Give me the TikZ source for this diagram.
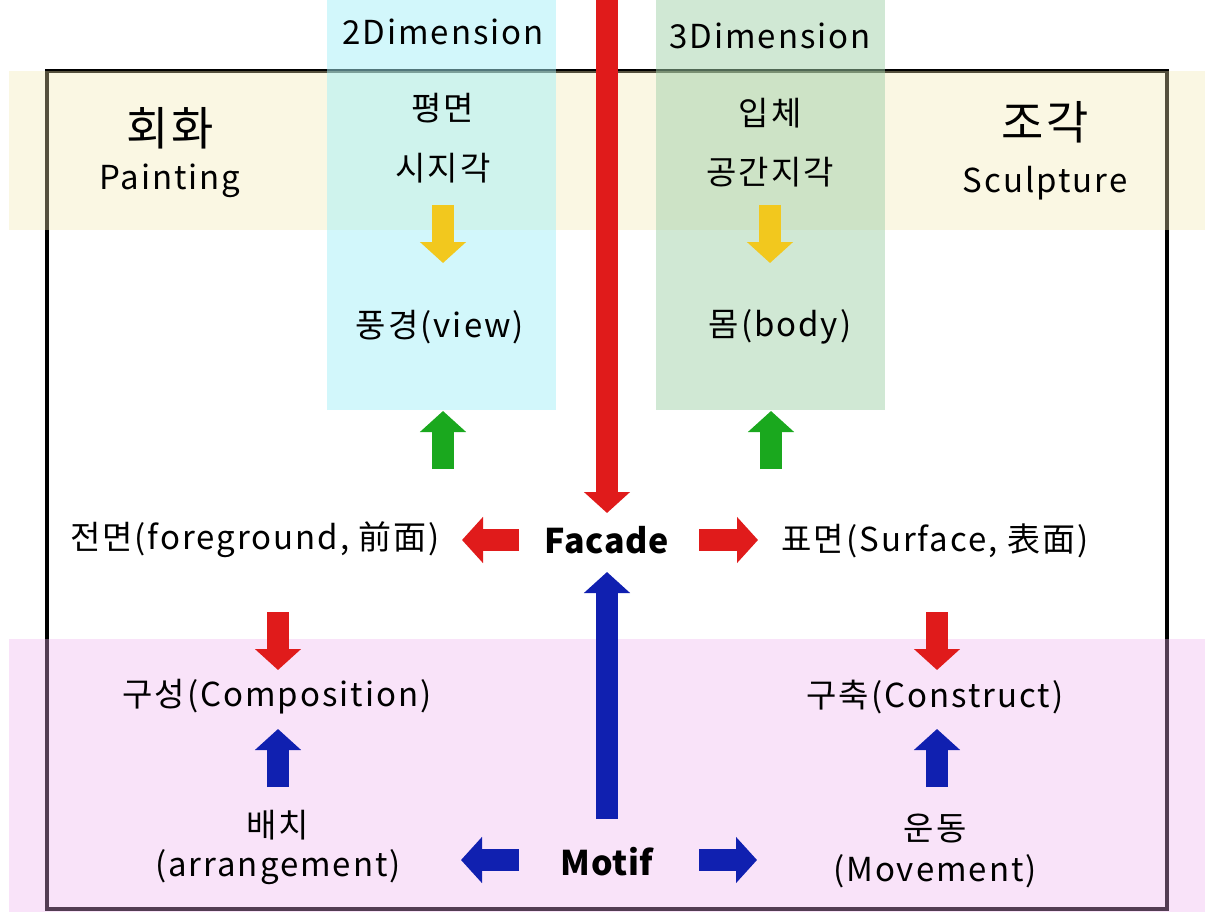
\documentclass[tikz,border=0pt]{standalone}
\usepackage{fontspec}
\setmainfont{Noto Sans CJK KR}[LetterSpace=6, BoldFeatures={LetterSpace=2}]
\usetikzlibrary{arrows.meta}
\definecolor{bandY}{RGB}{241,232,175}
\definecolor{bandP}{RGB}{238,175,238}
\definecolor{colC}{RGB}{165,239,247}
\definecolor{colG}{RGB}{161,209,169}
\definecolor{arRed}{RGB}{224,27,27}
\definecolor{arBlue}{RGB}{16,32,176}
\definecolor{arGreen}{RGB}{26,168,30}
\definecolor{arYellow}{RGB}{242,200,30}
\tikzset{
  txt/.style={inner sep=0pt, font=\fontsize{33}{40}\selectfont},
  bigtxt/.style={inner sep=0pt, font=\fontsize{46}{52}\selectfont},
  boldtxt/.style={inner sep=0pt, font=\fontsize{34}{40}\selectfont\bfseries},
  blockarrow/.style={line width=22pt, line cap=butt,
    -{Triangle[length=21pt,width=45pt]}},
}
\begin{document}
\begin{tikzpicture}[x=1pt,y=-1pt]
\useasboundingbox (0,0) rectangle (1220,912);
% outer frame
\draw[line width=3.5pt, black] (47,71) rectangle (1167,909);
% horizontal bands
\fill[bandY, fill opacity=0.35] (9,71) rectangle (1205,230);
\fill[bandP, fill opacity=0.35] (9,639) rectangle (1205,912);
% dimension columns
\fill[colC, fill opacity=0.5] (327,0) rectangle (556,410);
\fill[colG, fill opacity=0.5] (656,0) rectangle (885,410);

% labels
\node[txt] (dim2) at (443,32) {2Dimension};
\node[txt] (dim3) at (770,36) {3Dimension};
\node[bigtxt] (hoehwa) at (170,128) {회화};
\node[txt] (painting) at (170,181) {Painting};
\node[txt] (pyeong) at (443,108) {평면};
\node[txt] (siji) at (443,168) {시지각};
\node[txt] (ipche) at (770,113) {입체};
\node[txt] (gonggan) at (770,172) {공간지각};
\node[bigtxt] (jogak) at (1045,122) {조각};
\node[txt] (sculpture) at (1045,183) {Sculpture};
\node[txt] (view) at (440,327) {풍경(view)};
\node[txt] (body) at (780,327) {몸(body)};
\node[txt] (fore) at (255,540) {전면(foreground, 前面)};
\node[boldtxt] (facade) at (607,540) {Facade};
\node[txt] (surface) at (935,541) {표면(Surface, 表面)};
\node[txt] (comp) at (277,697) {구성(Composition)};
\node[txt] (constr) at (935,697) {구축(Construct)};
\node[txt] (baechi) at (278,825) {배치};
\node[txt] (arrange) at (278,867) {(arrangement)};
\node[boldtxt] (motif) at (607,862) {Motif};
\node[txt] (undong) at (935,828) {운동};
\node[txt] (movement) at (935,871) {(Movement)};

% arrow end points
\coordinate (redTop) at (607,-5);
\coordinate (redTip) at (607,513);
\coordinate (blueBase) at (607,819);
\coordinate (blueTip) at (607,572);
\coordinate (y2s) at (443,205);   \coordinate (y2e) at (443,263);
\coordinate (y3s) at (770,205);   \coordinate (y3e) at (770,263);
\coordinate (g2s) at (443,469);   \coordinate (g2e) at (443,411);
\coordinate (g3s) at (771,469);   \coordinate (g3e) at (771,411);
\coordinate (rls) at (519,540);   \coordinate (rle) at (462,540);
\coordinate (rrs) at (699,540);   \coordinate (rre) at (758,540);
\coordinate (rd1s) at (278,612);  \coordinate (rd1e) at (278,670);
\coordinate (rd2s) at (937,612);  \coordinate (rd2e) at (937,670);
\coordinate (bu1s) at (278,787);  \coordinate (bu1e) at (278,729);
\coordinate (bu2s) at (937,787);  \coordinate (bu2e) at (937,729);
\coordinate (bls) at (519,860);   \coordinate (ble) at (461,860);
\coordinate (brs) at (699,860);   \coordinate (bre) at (757,860);

% block arrows
\draw[blockarrow, arRed] (redTop) -- (redTip);
\draw[blockarrow, arBlue] (blueBase) -- (blueTip);
\draw[blockarrow, arYellow] (y2s) -- (y2e);
\draw[blockarrow, arYellow] (y3s) -- (y3e);
\draw[blockarrow, arGreen] (g2s) -- (g2e);
\draw[blockarrow, arGreen] (g3s) -- (g3e);
\draw[blockarrow, arRed] (rls) -- (rle);
\draw[blockarrow, arRed] (rrs) -- (rre);
\draw[blockarrow, arRed] (rd1s) -- (rd1e);
\draw[blockarrow, arRed] (rd2s) -- (rd2e);
\draw[blockarrow, arBlue] (bu1s) -- (bu1e);
\draw[blockarrow, arBlue] (bu2s) -- (bu2e);
\draw[blockarrow, arBlue] (bls) -- (ble);
\draw[blockarrow, arBlue] (brs) -- (bre);
\end{tikzpicture}
\end{document}
